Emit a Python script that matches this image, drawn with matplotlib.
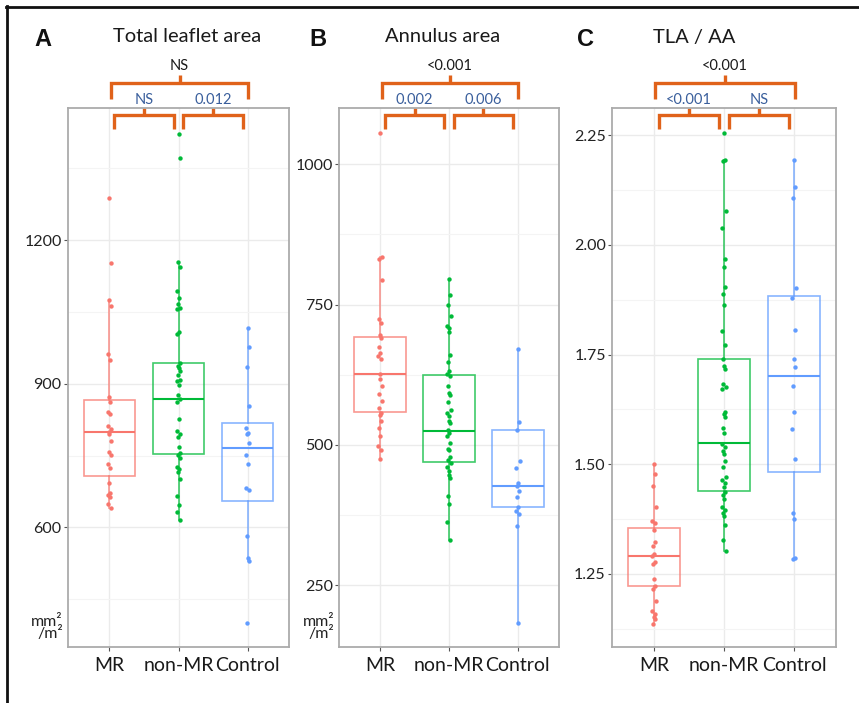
import matplotlib
matplotlib.use("Agg")
import matplotlib.pyplot as plt
import matplotlib.transforms as mtransforms
from matplotlib.lines import Line2D
from matplotlib.ticker import FixedLocator, FormatStrFormatter

# ---------------- data ----------------
groups = ["MR", "non-MR", "Control"]
colors = ["#F8766D", "#00BA38", "#619CFF"]

# Panel A: total leaflet area (mm2/m2)
A_MR = [1287, 1153, 1074, 1062, 963, 950, 873, 862, 840, 836, 812, 805, 800, 795,
        781, 757, 751, 732, 723, 692, 672, 667, 663, 649, 640]
A_nonMR = [1422, 1371, 1154, 1144, 1094, 1080, 1067, 1059, 1056, 1008, 1004, 944, 937,
           932, 927, 919, 908, 906, 897, 876, 869, 861, 826, 802, 796, 789, 768, 756,
           751, 744, 726, 721, 716, 702, 665, 646, 631, 616]
A_Control = [1016, 977, 934, 853, 807, 798, 795, 776, 751, 732, 683, 677, 582, 535, 530, 400]
A_q1 = [708, 753, 654]
A_med = [800, 869, 765]
A_q3 = [867, 943, 817]
A_whislo = [640, 616, 530]
A_whishi = [1074, 1154, 1016]

# Panel B: annulus area (mm2/m2)
B_MR = [1056, 834, 831, 793, 724, 717, 696, 690, 675, 664, 658, 653, 627, 618, 604,
        591, 579, 566, 557, 554, 543, 530, 515, 498, 491, 474]
B_nonMR = [795, 767, 750, 729, 712, 708, 701, 660, 647, 631, 627, 622, 605, 592, 589,
           577, 562, 557, 552, 542, 539, 526, 521, 515, 504, 492, 490, 478, 473, 467,
           460, 454, 446, 441, 409, 395, 363, 330]
B_Control = [671, 540, 527, 472, 458, 432, 426, 418, 408, 390, 383, 377, 355, 182]
B_q1 = [558, 470, 389]
B_med = [627, 524, 427]
B_q3 = [692, 625, 527]
B_whislo = [474, 330, 182]
B_whishi = [834, 795, 671]

# Panel C: TLA / AA
C_MR = [1.500, 1.477, 1.450, 1.402, 1.370, 1.365, 1.351, 1.322, 1.314, 1.296, 1.291,
        1.277, 1.272, 1.238, 1.222, 1.216, 1.188, 1.165, 1.159, 1.151, 1.146, 1.136]
C_nonMR = [2.256, 2.194, 2.191, 2.078, 2.038, 1.969, 1.949, 1.904, 1.889, 1.863, 1.803,
           1.772, 1.741, 1.723, 1.716, 1.683, 1.677, 1.671, 1.619, 1.614, 1.607, 1.582,
           1.571, 1.546, 1.539, 1.529, 1.524, 1.508, 1.493, 1.470, 1.464, 1.457, 1.447,
           1.437, 1.430, 1.420, 1.403, 1.396, 1.389, 1.382, 1.361, 1.327, 1.302]
C_Control = [2.194, 2.133, 2.107, 1.902, 1.880, 1.807, 1.741, 1.722, 1.679, 1.620,
             1.580, 1.512, 1.388, 1.376, 1.287, 1.283]
C_q1 = [1.222, 1.439, 1.483]
C_med = [1.290, 1.549, 1.702]
C_q3 = [1.354, 1.741, 1.883]
C_whislo = [1.136, 1.302, 1.283]
C_whishi = [1.500, 2.194, 2.194]

titles = ["Total leaflet area", "Annulus area", "TLA / AA"]
letters = ["A", "B", "C"]
# p-values: [MR vs non-MR, non-MR vs Control, MR vs Control]
pvals_A = ["NS", "0.012", "NS"]
pvals_B = ["0.002", "0.006", "<0.001"]
pvals_C = ["<0.001", "NS", "<0.001"]

yticks_A = [600, 900, 1200]
yticks_B = [250, 500, 750, 1000]
yticks_C = [1.25, 1.50, 1.75, 2.00, 2.25]
yminor_A = [450, 750, 1050, 1350]
yminor_B = [375, 625, 875]
yminor_C = [1.125, 1.375, 1.625, 1.875, 2.125]

# ---------------- layout ----------------
W, H = 859, 703
fig = plt.figure(figsize=(W / 100, H / 100), dpi=100)
fig.patch.set_facecolor("white")

FONT = ["Lato", "DejaVu Sans"]
plt.rcParams["font.family"] = FONT

def fy(py):
    return 1 - py / H

def fx(px):
    return px / W

ax_px = [(68, 289), (339, 559), (612, 836)]
ax_top, ax_bot = 108, 647
ylims = [(350, 1476), (140, 1100), (1.083, 2.3125)]
title_x = [187, 443, 694]
letter_x = [43, 318, 585]
unit_label = [True, True, False]

panels = [
    (A_MR, A_nonMR, A_Control, A_q1, A_med, A_q3, A_whislo, A_whishi, yticks_A, yminor_A, pvals_A, "%d"),
    (B_MR, B_nonMR, B_Control, B_q1, B_med, B_q3, B_whislo, B_whishi, yticks_B, yminor_B, pvals_B, "%d"),
    (C_MR, C_nonMR, C_Control, C_q1, C_med, C_q3, C_whislo, C_whishi, yticks_C, yminor_C, pvals_C, "%.2f"),
]

jit = [0.0, 0.035, -0.02, 0.045, -0.04, 0.012, -0.01, 0.025, -0.03, 0.005, -0.045, 0.03, -0.015]

orange = "#E0621A"
pblue = "#3A5F9C"
grid_c = "#EBEBEB"
grid_minor_c = "#F4F4F4"

for i, (g1, g2, g3, q1, med, q3, wlo, whi, yt, ymn, pv, fmt) in enumerate(panels):
    x0, x1 = ax_px[i]
    ax = fig.add_axes([fx(x0), fy(ax_bot), (x1 - x0) / W, (ax_bot - ax_top) / H])
    ax.set_xlim(0.4, 3.6)
    ax.set_ylim(*ylims[i])
    ax.set_facecolor("white")
    for s in ax.spines.values():
        s.set_color("#ABABAB")
        s.set_linewidth(1.3)
    ax.yaxis.set_major_locator(FixedLocator(yt))
    ax.yaxis.set_minor_locator(FixedLocator(ymn))
    ax.yaxis.set_major_formatter(FormatStrFormatter(fmt))
    ax.set_xticks([1, 2, 3])
    ax.set_xticklabels(groups, fontsize=14, color="#1A1A1A")
    ax.tick_params(axis="y", which="major", length=3, color="#555555", labelsize=11.5,
                   labelcolor="#222222", pad=1.5)
    ax.tick_params(axis="y", which="minor", length=0)
    ax.tick_params(axis="x", length=3, color="#555555", pad=4)
    ax.grid(True, which="major", color=grid_c, linewidth=1.0, zorder=0)
    ax.grid(True, which="minor", axis="y", color=grid_minor_c, linewidth=0.8, zorder=0)
    ax.set_axisbelow(True)

    stats = []
    for k in range(3):
        stats.append(dict(q1=q1[k], med=med[k], q3=q3[k], whislo=wlo[k], whishi=whi[k],
                          fliers=[], label=groups[k]))
    bp = ax.bxp(stats, positions=[1, 2, 3], widths=0.75, showfliers=False,
                showcaps=False, patch_artist=True, manage_ticks=False)
    for k in range(3):
        bp["boxes"][k].set_facecolor("none")
        bp["boxes"][k].set_edgecolor(colors[k])
        bp["boxes"][k].set_alpha(0.75)
        bp["boxes"][k].set_linewidth(1.2)
        bp["medians"][k].set_color(colors[k])
        bp["medians"][k].set_linewidth(1.5)
        for w in bp["whiskers"][2 * k:2 * k + 2]:
            w.set_color(colors[k])
            w.set_alpha(0.75)
            w.set_linewidth(1.2)

    for k, vals in enumerate([g1, g2, g3]):
        xs = [k + 1 + jit[j % len(jit)] * 0.6 for j in range(len(vals))]
        ax.scatter(xs, vals, s=10, color=colors[k], zorder=5, linewidths=0)

    # titles and letters
    fig.text(fx(title_x[i]), fy(37), titles[i], ha="center", va="center",
             fontsize=14.5, color="#1A1A1A")
    fig.text(fx(letter_x[i]), fy(39), letters[i], ha="center", va="center",
             fontsize=17, fontweight="bold", family=["Liberation Sans"], color="#111111")

    if unit_label[i]:
        fig.text(fx(x0 - 5), fy(628), "mm²\n/m²", ha="right", va="center",
                 fontsize=11.5, color="#222222", linespacing=0.8)

    # significance brackets (x in data units, y in figure pixels)
    tr = mtransforms.blended_transform_factory(ax.transData, fig.transFigure)
    def bracket(xa, xb, yh, yleg, ytick, label, ylab, lc):
        xm = (xa + xb) / 2
        ax.add_line(Line2D([xa, xa, xb, xb], [fy(yleg), fy(yh), fy(yh), fy(yleg)],
                           transform=tr, color=orange, lw=2.4, clip_on=False,
                           solid_joinstyle="miter", solid_capstyle="butt"))
        ax.add_line(Line2D([xm, xm], [fy(yh), fy(ytick)], transform=tr, color=orange,
                           lw=2.4, clip_on=False, solid_capstyle="butt"))
        ax.text(xm, fy(ylab), label, transform=tr, ha="center", va="center",
                fontsize=10.5, color=lc, clip_on=False)
    bracket(1.07, 1.93, 115, 128.5, 107.5, pv[0], 99.5, pblue)
    bracket(2.07, 2.93, 115, 128.5, 107.5, pv[1], 99.5, pblue)
    bracket(1.02, 3.01, 82.7, 98.5, 75, pv[2], 66.5, "#1A1A1A")

# outer border (top and left visible)
fig.add_artist(Line2D([fx(7), fx(7)], [fy(6), fy(H + 5)], color="#111111", lw=2.0,
                      transform=fig.transFigure))
fig.add_artist(Line2D([fx(6), fx(W + 5)], [fy(6.5), fy(6.5)], color="#111111", lw=2.0,
                      transform=fig.transFigure))

fig.savefig("out.png", dpi=100, facecolor="white")
